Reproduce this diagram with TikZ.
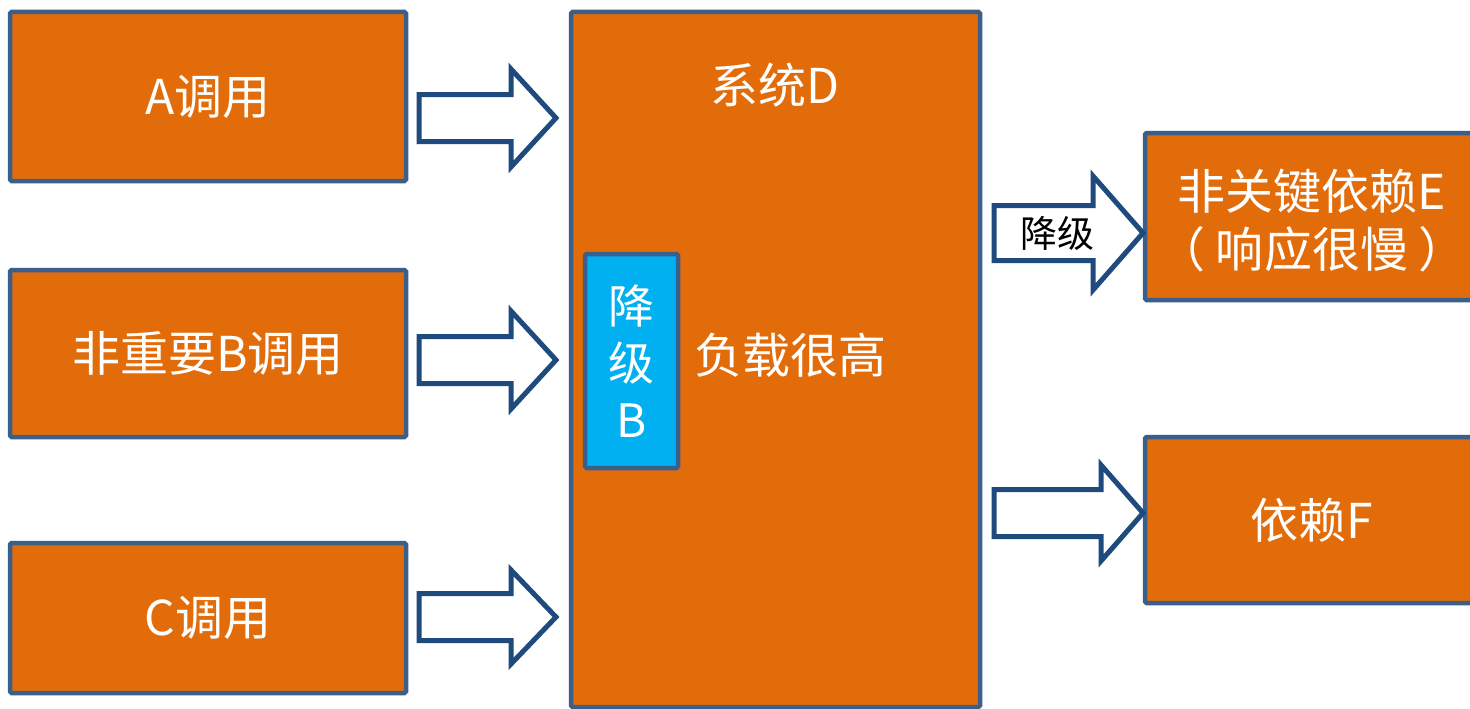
\documentclass[tikz,border=0pt]{standalone}
\usepackage{fontspec}
\setmainfont{Noto Sans CJK SC}
\definecolor{boxorange}{HTML}{E36C0A}
\definecolor{boxline}{HTML}{3A5F8B}
\definecolor{arrowline}{HTML}{1F4A7E}
\definecolor{cyanfill}{HTML}{00B0F0}
\begin{document}
\begin{tikzpicture}[x=1pt,y=-1pt,
  obox/.style={draw=boxline,line width=4.5pt,fill=boxorange,rounded corners=1.5pt,
    text=white,align=center,inner sep=0pt,font=\fontsize{48}{58}\selectfont},
  bbox/.style={draw=boxline,line width=4.5pt,fill=cyanfill,rounded corners=1.5pt,
    text=white,align=center,inner sep=0pt,font=\fontsize{46}{57}\selectfont},
  barrow/.style={draw=arrowline,line width=5pt,fill=white,line join=miter},
  wtext/.style={text=white,inner sep=0pt,align=center,font=\fontsize{48}{58}\selectfont}]
\clip (0,0) rectangle (1470,709);
\fill[white] (0,0) rectangle (1470,709);
% left boxes
\node[obox,minimum width=396pt,minimum height=169pt] (A) at (208,96.5) {A调用};
\node[obox,minimum width=396pt,minimum height=167pt] (B) at (208,353.5) {非重要B调用};
\node[obox,minimum width=396pt,minimum height=150pt] (C) at (208,618) {C调用};
% system D
\node[obox,minimum width=409pt,minimum height=695pt] (D) at (775.5,359.5) {};
\node[wtext] (Dt) at (775,85) {系统D};
\node[wtext] (load) at (790,355) {负载很高};
\node[bbox,minimum width=93pt,minimum height=214pt] (deg) at (631.5,361) {降\\级\\B};
% right boxes
\node[obox,minimum width=333pt,minimum height=167pt] (E) at (1311.5,216.5) {};
\node[wtext] (Et) at (1312,221) {非关键依赖E\\（ 响应很慢 ）};
\node[obox,minimum width=333pt,minimum height=166pt] (F) at (1311.5,520) {依赖F};
% block arrows
\newcommand{\blockarr}[6]{% x0, xbase, xtip, yc, shaft half, head half
  \draw[barrow] (#1,#4-#5) -- (#2,#4-#5) -- (#2,#4-#6) -- (#3,#4) -- (#2,#4+#6) -- (#2,#4+#5) -- (#1,#4+#5) -- cycle;}
\blockarr{419}{511}{556}{118}{23.5}{49}
\blockarr{419}{511}{556}{360}{23.5}{49}
\blockarr{419}{511}{556}{617}{23.5}{47}
\blockarr{994}{1093}{1143}{233}{27.5}{57}
\blockarr{994}{1101}{1143}{513}{23.5}{48}
\node[inner sep=0pt,font=\fontsize{37}{42}\selectfont] (dl) at (1057,233) {降级};
\end{tikzpicture}
\end{document}
